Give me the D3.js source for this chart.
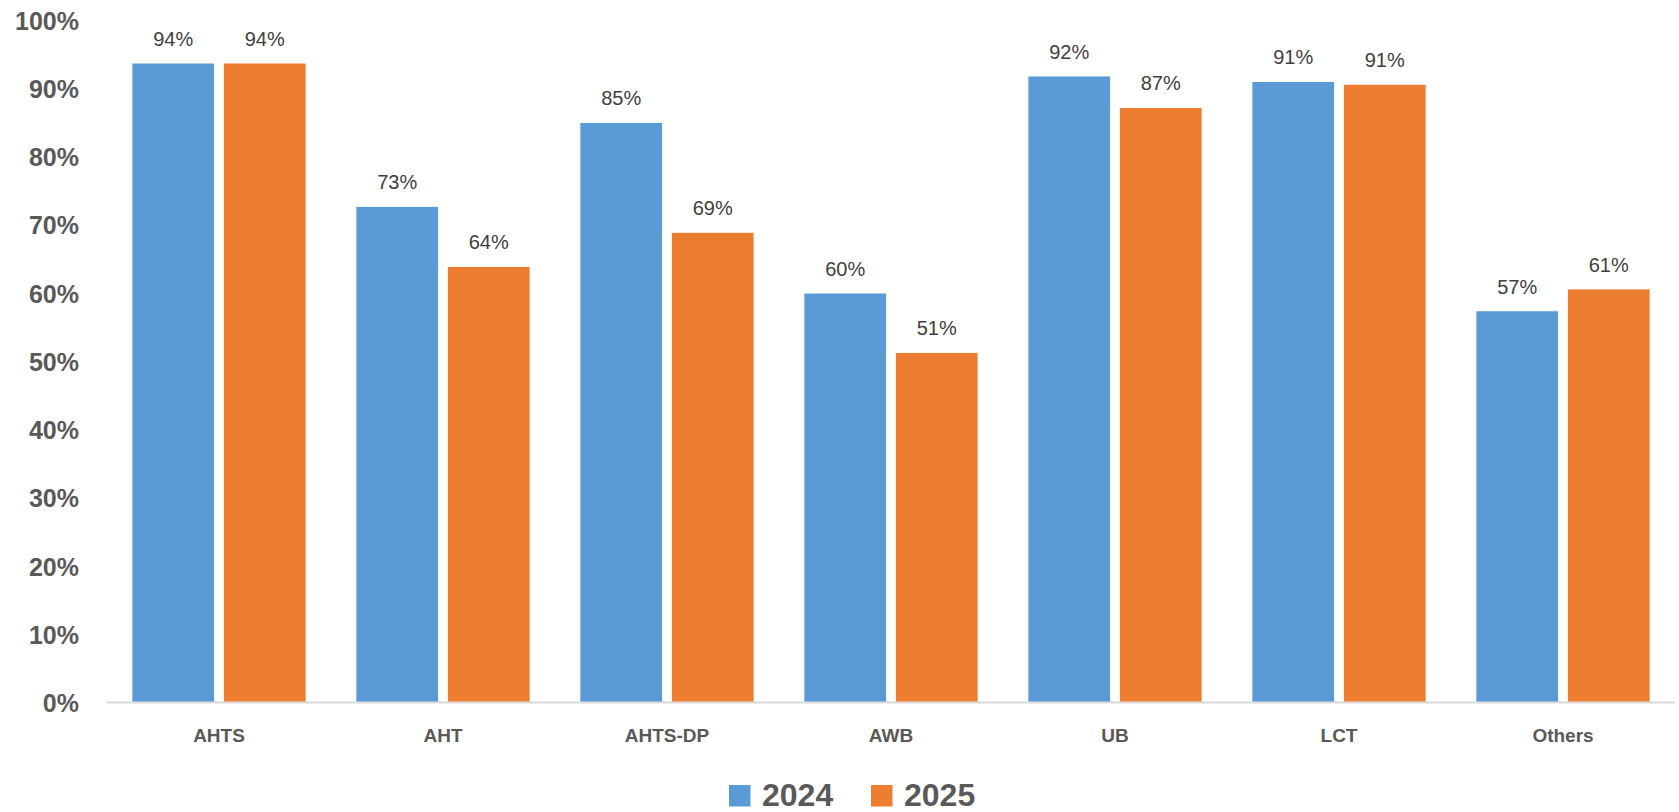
<!DOCTYPE html>
<html><head><meta charset="utf-8">
<script src="https://cdn.jsdelivr.net/npm/d3@7"></script>
<style>html,body{margin:0;padding:0;background:#fff;}svg{display:block;}</style>
</head><body>
<svg id="chart" width="1679" height="812"></svg>
<script>
const categories = ["AHTS","AHT","AHTS-DP","AWB","UB","LCT","Others"];
const seriesNames = ["2024","2025"];
const values2024 = [0.937, 0.727, 0.850, 0.600, 0.918, 0.910, 0.574];
const values2025 = [0.937, 0.639, 0.689, 0.513, 0.872, 0.906, 0.606];
const labels2024 = ["94%","73%","85%","60%","92%","91%","57%"];
const labels2025 = ["94%","64%","69%","51%","87%","91%","61%"];
const yTicks = [0,0.1,0.2,0.3,0.4,0.5,0.6,0.7,0.8,0.9,1.0];
const colors = ["#5B9BD5","#ED7D31"];

const svg = d3.select("#chart");
const plotLeft = 107, plotRight = 1675, plotTop = 20, plotBottom = 702.5;

const x0 = d3.scaleBand().domain(categories).range([plotLeft, plotRight]).paddingInner(0.222).paddingOuter(0.111);
const x1 = d3.scaleBand().domain(seriesNames).range([0, x0.bandwidth()]).paddingInner(0.095);
const y = d3.scaleLinear().domain([0, 1]).range([plotBottom, plotTop]);

const data = categories.map((c, i) => ({
  cat: c,
  vals: [
    {s: "2024", v: values2024[i], l: labels2024[i]},
    {s: "2025", v: values2025[i], l: labels2025[i]}
  ]
}));

// y axis labels
const yAxis = d3.axisLeft(y).tickValues(yTicks).tickFormat(d3.format(".0%")).tickSize(0).tickPadding(0);
const yg = svg.append("g").attr("transform", `translate(79,0)`).call(yAxis);
yg.select(".domain").remove();
yg.selectAll("text")
  .attr("font-family", "Liberation Sans, Arial, sans-serif")
  .attr("font-size", 25).attr("font-weight", "bold").attr("fill", "#595959")
  .attr("dy", "0.36em");

// bars
const groups = svg.append("g").selectAll("g").data(data).join("g")
  .attr("transform", d => `translate(${x0(d.cat)},0)`);
groups.selectAll("rect").data(d => d.vals).join("rect")
  .attr("x", d => x1(d.s))
  .attr("width", x1.bandwidth())
  .attr("y", d => y(d.v))
  .attr("height", d => y(0) - y(d.v))
  .attr("fill", (d, i) => colors[i])
  .attr("stroke", "#ffffff").attr("stroke-width", 1);
groups.selectAll("text").data(d => d.vals).join("text")
  .attr("x", d => x1(d.s) + x1.bandwidth() / 2)
  .attr("y", d => y(d.v) - 17)
  .attr("text-anchor", "middle")
  .attr("font-family", "Liberation Sans, Arial, sans-serif")
  .attr("font-size", 20).attr("fill", "#404040")
  .text(d => d.l);

// x axis
const xAxis = d3.axisBottom(x0).tickSize(0).tickPadding(0);
const xg = svg.append("g").attr("transform", `translate(0,${plotBottom})`).call(xAxis);
xg.select(".domain").attr("stroke", "#D9D9D9").attr("stroke-width", 2)
  .attr("d", `M${plotLeft},0H${plotRight}`);
xg.selectAll("text")
  .attr("font-family", "Liberation Sans, Arial, sans-serif")
  .attr("font-size", 19).attr("font-weight", "bold").attr("fill", "#595959")
  .attr("dy", 0).attr("y", 39);

// legend
const legendX = [729, 871];
const leg = svg.append("g").selectAll("g").data(seriesNames).join("g")
  .attr("transform", (d, i) => `translate(${legendX[i]},785)`);
leg.append("rect").attr("width", 21.5).attr("height", 21.5).attr("fill", (d, i) => colors[i]);
leg.append("text").attr("x", 33).attr("y", 21)
  .attr("font-family", "Liberation Sans, Arial, sans-serif")
  .attr("font-size", 32).attr("font-weight", "bold").attr("fill", "#595959")
  .text(d => d);
</script>
</body></html>
